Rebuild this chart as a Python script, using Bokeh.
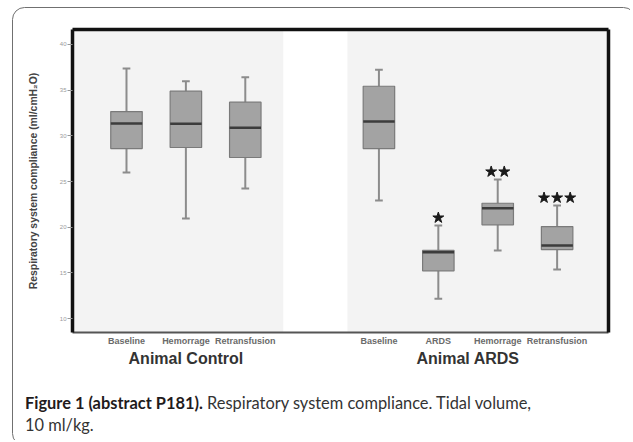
from bokeh.plotting import figure
from bokeh.models import (LinearAxis, FixedTicker, Range1d, ColumnDataSource, Column, Div)
from bokeh.embed import file_html
from bokeh.resources import INLINE

# ---------------- data ----------------
control_categories = ["Baseline", "Hemorrage", "Retransfusion"]
control_low = [25.98, 20.95, 24.23]
control_q1 = [28.61, 28.72, 27.63]
control_median = [31.35, 31.32, 30.88]
control_q3 = [32.66, 34.89, 33.68]
control_high = [37.37, 35.98, 36.42]

ards_categories = ["Baseline", "ARDS", "Hemorrage", "Retransfusion"]
ards_low = [22.92, 12.16, 17.44, 15.36]
ards_q1 = [28.61, 15.22, 20.26, 17.55]
ards_median = [31.57, 17.25, 22.08, 17.99]
ards_q3 = [35.43, 17.45, 22.62, 20.07]
ards_high = [37.23, 20.18, 25.22, 22.37]
ards_stars = [0, 1, 2, 3]

group_names = ["Animal Control", "Animal ARDS"]
y_ticks = [10, 15, 20, 25, 30, 35, 40]
caption_bold = "Figure 1 (abstract P181)."
caption_line1 = "Respiratory system compliance. Tidal volume,"
caption_line2 = "10 ml/kg."

# ---------------- layout helpers ----------------
ctrl_pos = [1 + i for i in range(len(control_categories))]
ards_pos = [5.25 + i for i in range(len(ards_categories))]
positions = ctrl_pos + ards_pos
labels = control_categories + ards_categories
low = control_low + ards_low
q1 = control_q1 + ards_q1
med = control_median + ards_median
q3 = control_q3 + ards_q3
high = control_high + ards_high

W = 630
H1, H2 = 372, 68
x_start, x_end = 0.091, 9.115
y_start, y_end = 8.47, 41.64

p = figure(width=W, height=H1, output_backend="svg", toolbar_location=None,
           x_range=Range1d(x_start, x_end), y_range=Range1d(y_start, y_end),
           min_border_left=72, min_border_top=29, min_border_right=22, min_border_bottom=40,
           background_fill_color="white", border_fill_color=None, outline_line_color=None)
p.grid.visible = False

# background panels
p.quad(left=[x_start, 4.72], right=[3.64, x_end], bottom=y_start, top=y_end,
       fill_color="#f3f3f3", line_color=None)

src = ColumnDataSource(dict(x=positions, low=low, q1=q1, med=med, q3=q3, high=high))
bw = 0.53
cap = 0.13
p.segment(x0="x", x1="x", y0="low", y1="q1", source=src, line_color="#8c8c8c", line_width=2)
p.segment(x0="x", x1="x", y0="q3", y1="high", source=src, line_color="#8c8c8c", line_width=2)
p.vbar(x="x", width=cap, top="high", bottom="high", source=src, line_color="#8c8c8c", line_width=2)
p.vbar(x="x", width=cap, top="low", bottom="low", source=src, line_color="#8c8c8c", line_width=2)
p.vbar(x="x", width=bw, bottom="q1", top="q3", source=src,
       fill_color="#a3a3a3", line_color="#7a7a7a", line_width=1.2)
p.vbar(x="x", width=bw, bottom="med", top="med", source=src, line_color="#3c3c3c", line_width=2.5)

# significance stars
sx, sy = [], []
for pos, n, h in zip(ards_pos, ards_stars, ards_high):
    for j in range(n):
        sx.append(pos + (j - (n - 1) / 2) * 0.22)
        sy.append(h + 0.85)
p.scatter(sx, sy, marker="star", size=11.5, fill_color="#1a1a1a", line_color="#1a1a1a")

# axes
yax = p.yaxis[0]
yax.ticker = FixedTicker(ticks=y_ticks)
yax.minor_tick_line_color = None
yax.major_tick_out = 5
yax.major_tick_in = 0
yax.major_tick_line_color = "#999999"
yax.major_label_text_font_size = "6px"
yax.major_label_text_color = "#9a9a9a"
yax.major_label_standoff = 1
yax.axis_line_color = "#111111"
yax.axis_line_width = 3.5
yax.axis_label = "Respiratory system compliance (ml/cmH\u2082O)"
yax.axis_label_text_font = "Liberation Sans"
yax.axis_label_text_font_style = "bold"
yax.axis_label_text_font_size = "10.4px"
yax.axis_label_text_color = "#444444"
yax.axis_label_standoff = 18

xax = p.xaxis[0]
xax.ticker = FixedTicker(ticks=positions)
xax.major_label_overrides = {pos: lab for pos, lab in zip(positions, labels)}
xax.major_tick_line_color = None
xax.major_tick_out = 0
xax.major_tick_in = 0
xax.minor_tick_line_color = None
xax.axis_line_color = "#555555"
xax.axis_line_width = 2
xax.major_label_text_font = "Liberation Sans"
xax.major_label_text_font_style = "bold"
xax.major_label_text_font_size = "9px"
xax.major_label_text_color = "#6a6a6a"
xax.major_label_standoff = 3

group_centers = [sum(ctrl_pos) / len(ctrl_pos), sum(ards_pos) / len(ards_pos)]
gax = LinearAxis(ticker=FixedTicker(ticks=group_centers),
                 major_label_overrides={c: n for c, n in zip(group_centers, group_names)})
gax.axis_line_color = None
gax.major_tick_line_color = None
gax.major_tick_out = 0
gax.major_tick_in = 0
gax.minor_tick_line_color = None
gax.major_label_text_font = "Liberation Sans"
gax.major_label_text_font_style = "bold"
gax.major_label_text_font_size = "16px"
gax.major_label_text_color = "#333333"
gax.major_label_standoff = 1
p.add_layout(gax, "below")

for loc in ("right", "above"):
    ax = LinearAxis(major_label_text_font_size="0px", major_tick_line_color=None,
                    major_tick_out=0, major_tick_in=0,
                    minor_tick_line_color=None, axis_line_color="#111111", axis_line_width=3.5)
    ax.ticker = FixedTicker(ticks=[])
    p.add_layout(ax, loc)

# ---------------- caption ----------------
caption = Div(
    text=("<div style='margin:20px 0 0 25px; font-family:Lato, sans-serif; font-size:16.4px; "
          "line-height:22px; color:#333333; white-space:nowrap'>"
          f"<b style='color:#1f1b1c'>{caption_bold}</b> {caption_line1}<br>{caption_line2}</div>"),
    width=W, height=H2, margin=0)

frame_svg = ("<svg xmlns='http://www.w3.org/2000/svg' width='630' height='440'>"
             "<rect x='12.5' y='7.5' width='623' height='438' rx='12' ry='12' fill='none' "
             "stroke='%23707070' stroke-width='1'/></svg>")
layout = Column(children=[p, caption], width=W, height=H1 + H2,
                styles={"background-color": "white",
                        "background-image": 'url("data:image/svg+xml;utf8,' + frame_svg + '")',
                        "background-repeat": "no-repeat"})

open("out.html", "w").write(file_html(layout, INLINE))
